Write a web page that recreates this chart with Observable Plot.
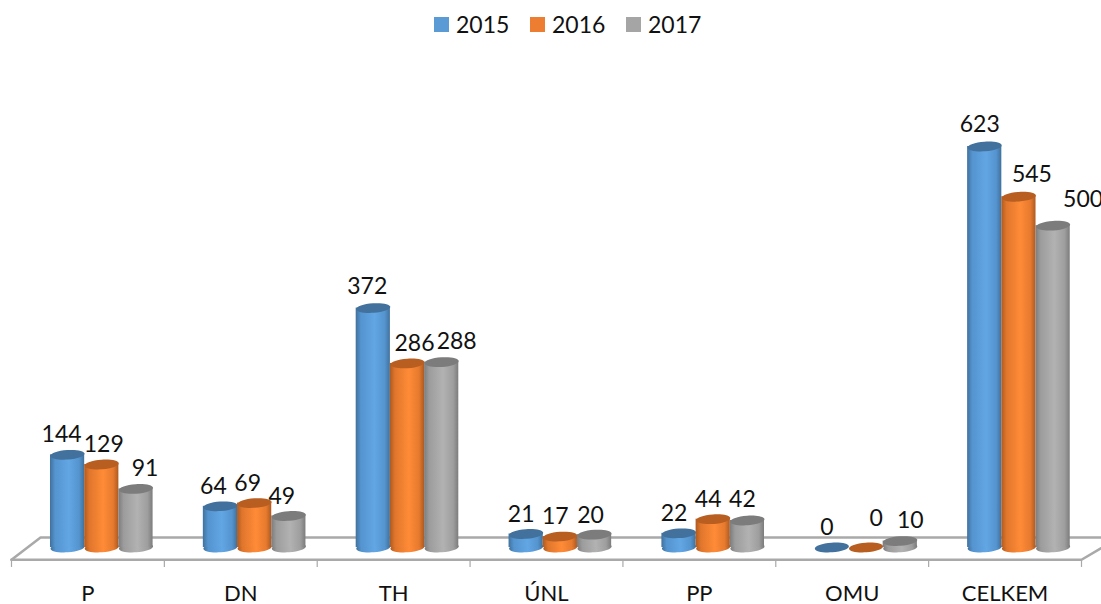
<!DOCTYPE html>
<html>
<head>
<meta charset="utf-8">
<script src="https://cdn.jsdelivr.net/npm/d3@7"></script>
<script src="https://cdn.jsdelivr.net/npm/@observablehq/plot@0.6"></script>
<style>
html,body{margin:0;padding:0;background:#fff;overflow:hidden;width:1101px;height:604px}
#legend{height:48px;position:relative;font:23px Lato,sans-serif;color:#111}
.k{position:absolute;top:17px;width:15px;height:15px}
.t{position:absolute;top:9px;line-height:30px}
svg{display:block}
</style>
</head>
<body>
<div id="legend"></div>
<div id="chart"></div>
<script>
const categories = ["P", "DN", "TH", "ÚNL", "PP", "OMU", "CELKEM"];
const years = ["2015", "2016", "2017"];
const v2015 = [144, 64, 372, 21, 22, 0, 623];
const v2016 = [129, 69, 286, 17, 44, 0, 545];
const v2017 = [91, 49, 288, 20, 42, 10, 500];
const series = [v2015, v2016, v2017];
const colors = ["#5b9bd5", "#ed7d31", "#a5a5a5"];
const topColors = ["#41719c", "#b85e20", "#7c7c7c"];
const ramps = [
  ["#41719c", "#5494cf", "#62a6e4", "#5494cf", "#41719c"],
  ["#ae5a21", "#e0762c", "#ff8b37", "#e67a2e", "#ae5a21"],
  ["#7c7c7c", "#9c9c9c", "#b2b2b2", "#9e9e9e", "#7c7c7c"]
];
// label nudges, in pixels, as placed in the original chart
const labelDx = [[-6, -7, -6, -5, -5, -5, -5], [2, -7, 7, -5, -5, 10, 13], [9, -7, 15, -4, -5, 10, 30]];
const labelDy = [[20.5, 19.5, 21.5, 19.5, 19.5, 19.5, 21.5], [19.5, 19.5, 19.5, 19.5, 19.5, 28.5, 22.5], [20.5, 19.5, 20.5, 19.5, 20.5, 20.5, 26.5]];

const pxX = (1081 - 11) / 7, pxY = 401 / 623;
const barPx = 34.2, barW = barPx / pxX, groupOff = 0.255;
const rows = series.flatMap((vals, s) => vals.map((v, i) => ({
  i, s, v,
  x1: i + groupOff + s * barW,
  x2: i + groupOff + (s + 1) * barW,
  xc: i + groupOff + (s + 0.5) * barW,
  lx: i + groupOff + (s + 0.5) * barW + labelDx[s][i] / pxX,
  ly: v + labelDy[s][i] / pxY
})));

const lg = document.getElementById("legend");
[[434, 456], [530, 552], [626, 648]].forEach(([a, b], k) => {
  lg.insertAdjacentHTML("beforeend",
    `<span class="k" style="left:${a}px;background:${colors[k]}"></span><span class="t" style="left:${b}px">${years[k]}</span>`);
});

const ellipse = {
  draw(c, size) {
    const r = Math.sqrt(size / Math.PI), ry = r * 0.28, t = -0.07, K = 0.5523;
    const cos = Math.cos(t), sin = Math.sin(t);
    const P = (x, y) => [x * cos - y * sin, x * sin + y * cos];
    const seg = (a, b, d) => c.bezierCurveTo(...P(...a), ...P(...b), ...P(...d));
    c.moveTo(...P(r, 0));
    seg([r, K * ry], [K * r, ry], [0, ry]);
    seg([-K * r, ry], [-r, K * ry], [-r, 0]);
    seg([-r, -K * ry], [-K * r, -ry], [0, -ry]);
    seg([K * r, -ry], [r, -K * ry], [r, 0]);
    c.closePath();
  }
};

function defs() {
  const d = d3.create("svg:defs");
  ramps.forEach((ramp, s) => {
    const g = d.append("linearGradient").attr("id", "cyl" + s)
      .attr("x1", 0).attr("x2", 1).attr("y1", 0).attr("y2", 0);
    [0, 0.15, 0.55, 0.85, 1].forEach((o, j) =>
      g.append("stop").attr("offset", o).attr("stop-color", ramp[j]));
  });
  return d.node();
}

const floorColor = "#a9a9a9";
const floor = [[0, -19], [0.19, 15.5], [7.2, 15.5]];
const floorFront = [[0, -19], [7, -19], [7.2, 9]];

const marks = [
  defs,
  Plot.ruleX([0, 1, 2, 3, 4, 5, 6, 7], {y1: -19, y2: -31, stroke: floorColor, strokeWidth: 1.2}),
  Plot.line(floor, {x: "0", y: "1", stroke: floorColor, strokeWidth: 2.5}),
  Plot.line(floorFront, {x: "0", y: "1", stroke: floorColor, strokeWidth: 2.5})
];
series.forEach((_, s) => {
  const d = rows.filter(r => r.s === s);
  marks.push(
    Plot.dot(d.filter(r => r.v > 0), {x: "xc", y: () => 0, r: barPx / 2, symbol: ellipse, fill: `url(#cyl${s})`, stroke: "none"}),
    Plot.rect(d.filter(r => r.v > 0), {x1: "x1", x2: "x2", y1: () => 0, y2: "v", fill: `url(#cyl${s})`, inset: 0}),
    Plot.dot(d, {x: "xc", y: "v", r: barPx / 2, symbol: ellipse, fill: topColors[s], stroke: "none"})
  );
});
marks.push(
  Plot.text(rows, {x: "lx", y: "ly", text: "v", fill: "#111", fontSize: 23, textAnchor: "middle", lineAnchor: "middle"}),
  Plot.axisX({
    ticks: categories.map((_, i) => i + 0.5),
    tickFormat: x => categories[Math.floor(x)],
    tickSize: 0, tickPadding: 2, label: null, fontSize: 22, anchor: "bottom", color: "#111"
  })
);

const plot = Plot.plot({
  width: 1101, height: 556,
  marginTop: 0, marginBottom: 21, marginLeft: 0, marginRight: 0,
  style: {fontFamily: "Lato, sans-serif", background: "#fff", overflow: "hidden"},
  x: {type: "linear", domain: [0, 7], range: [11, 1081]},
  y: {type: "linear", domain: [0, 623], range: [499, 98], axis: null},
  marks
});
document.getElementById("chart").append(plot);
</script>
</body>
</html>
